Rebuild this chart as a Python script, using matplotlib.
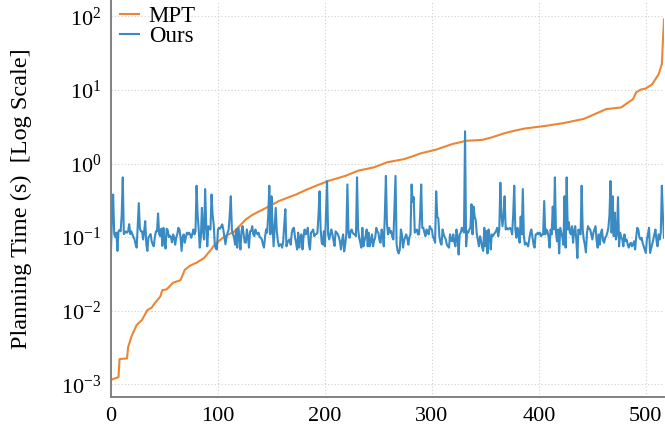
import numpy as np
import matplotlib
matplotlib.use("Agg")
import matplotlib.pyplot as plt
from matplotlib.ticker import FixedLocator, NullLocator

# ---------------- data ----------------
series_labels = ["MPT", "Ours"]

# MPT: sorted planning times, sampled at the ranks where they were read
mpt_rank = [0, 7, 8, 15, 16, 19, 24, 29, 34, 38,
            41, 46, 48, 52, 58, 65, 69, 74, 80, 87,
            94, 96, 101, 107, 115, 126, 132, 145, 157, 173,
            184, 203, 219, 231, 246, 258, 274, 283, 289, 304,
            319, 332, 347, 356, 368, 377, 387, 406, 423, 442,
            463, 477, 481, 488, 491, 495, 500, 506, 512, 515,
            516, 517]
mpt_time = [1.15e-3, 1.25e-3, 2.2e-3, 2.25e-3, 3.2e-3, 4.4e-3, 6.4e-3, 7.5e-3, 1.02e-2, 1.1e-2,
            1.27e-2, 1.55e-2, 1.9e-2, 1.95e-2, 2.4e-2, 2.6e-2, 3.6e-2, 4.1e-2, 4.5e-2, 5.2e-2,
            6.9e-2, 0.076, 0.089, 0.104, 0.118, 0.174, 0.20, 0.25, 0.31, 0.38,
            0.45, 0.58, 0.68, 0.80, 0.89, 1.04, 1.15, 1.27, 1.37, 1.55,
            1.84, 2.04, 2.1, 2.27, 2.59, 2.79, 3.0, 3.25, 3.55, 4.05,
            5.5, 5.8, 6.4, 7.5, 9.3, 10.1, 10.5, 12.0, 16.4, 22.6,
            47.0, 91.0]

# Ours: planning time per problem (same ordering), one value per problem
ours_time = [
    0.068, 0.2, 0.38, 0.11, 0.1, 0.115, 0.065, 0.12, 0.125, 0.12,
    0.2, 0.65, 0.11, 0.115, 0.12, 0.115, 0.12, 0.15, 0.11, 0.12,
    0.109, 0.1, 0.093, 0.08, 0.072, 0.15, 0.29, 0.13, 0.12, 0.12,
    0.093, 0.12, 0.165, 0.08, 0.065, 0.1, 0.103, 0.11, 0.088, 0.08,
    0.075, 0.1, 0.12, 0.12, 0.21, 0.11, 0.103, 0.13, 0.076, 0.134,
    0.09, 0.07, 0.13, 0.125, 0.1, 0.105, 0.1, 0.085, 0.109, 0.1,
    0.079, 0.098, 0.11, 0.134, 0.127, 0.1, 0.065, 0.1, 0.109, 0.084,
    0.1, 0.115, 0.109, 0.115, 0.109, 0.098, 0.11, 0.127, 0.109, 0.12,
    0.5, 0.2, 0.127, 0.072, 0.1, 0.25, 0.12, 0.093, 0.45, 0.15,
    0.075, 0.141, 0.13, 0.127, 0.38, 0.2, 0.15, 0.08, 0.07, 0.068,
    0.127, 0.134, 0.13, 0.14, 0.149, 0.127, 0.1, 0.08, 0.1, 0.115,
    0.127, 0.2, 0.36, 0.127, 0.11, 0.1, 0.079, 0.127, 0.072, 0.134,
    0.1, 0.068, 0.12, 0.141, 0.109, 0.085, 0.084, 0.127, 0.1, 0.072,
    0.12, 0.121, 0.141, 0.11, 0.103, 0.127, 0.115, 0.109, 0.115, 0.1,
    0.098, 0.093, 0.08, 0.072, 0.1, 0.127, 0.115, 0.2, 0.5, 0.109,
    0.36, 0.15, 0.075, 0.141, 0.25, 0.12, 0.088, 0.075, 0.079, 0.08,
    0.072, 0.088, 0.15, 0.24, 0.075, 0.084, 0.09, 0.093, 0.079, 0.115,
    0.13, 0.134, 0.1, 0.084, 0.068, 0.115, 0.072, 0.1, 0.109, 0.068,
    0.1, 0.127, 0.109, 0.115, 0.134, 0.08, 0.068, 0.115, 0.12, 0.127,
    0.103, 0.109, 0.11, 0.115, 0.2, 0.42, 0.127, 0.084, 0.079, 0.12,
    0.075, 0.2, 0.58, 0.109, 0.093, 0.11, 0.127, 0.109, 0.09, 0.076,
    0.12, 0.115, 0.11, 0.1, 0.088, 0.068, 0.09, 0.109, 0.064, 0.08,
    0.109, 0.52, 0.115, 0.098, 0.12, 0.127, 0.115, 0.11, 0.109, 0.103,
    0.65, 0.13, 0.098, 0.085, 0.072, 0.134, 0.075, 0.09, 0.103, 0.127,
    0.075, 0.115, 0.075, 0.09, 0.109, 0.075, 0.09, 0.098, 0.134, 0.12,
    0.115, 0.09, 0.084, 0.127, 0.109, 0.075, 0.2, 0.68, 0.15, 0.109,
    0.134, 0.115, 0.121, 0.1, 0.093, 0.25, 0.68, 0.08, 0.065, 0.06,
    0.068, 0.127, 0.109, 0.072, 0.09, 0.1, 0.109, 0.095, 0.079, 0.1,
    0.109, 0.52, 0.3, 0.35, 0.115, 0.12, 0.127, 0.109, 0.109, 0.2,
    0.52, 0.134, 0.134, 0.115, 0.103, 0.127, 0.12, 0.109, 0.141, 0.13,
    0.127, 0.1, 0.095, 0.084, 0.42, 0.19, 0.18, 0.103, 0.084, 0.079,
    0.127, 0.109, 0.1, 0.093, 0.079, 0.075, 0.072, 0.109, 0.09, 0.088,
    0.109, 0.085, 0.075, 0.127, 0.1, 0.058, 0.109, 0.115, 0.134, 0.125,
    0.115, 2.75, 0.075, 0.12, 0.115, 0.127, 0.134, 0.28, 0.109, 0.26,
    0.19, 0.17, 0.109, 0.09, 0.075, 0.103, 0.09, 0.072, 0.065, 0.134,
    0.075, 0.121, 0.06, 0.127, 0.103, 0.068, 0.109, 0.103, 0.109, 0.115,
    0.121, 0.134, 0.103, 0.127, 0.55, 0.2, 0.141, 0.2, 0.36, 0.127,
    0.134, 0.127, 0.13, 0.134, 0.127, 0.109, 0.2, 0.5, 0.127, 0.098,
    0.134, 0.115, 0.084, 0.19, 0.109, 0.45, 0.103, 0.079, 0.084, 0.08,
    0.075, 0.093, 0.115, 0.127, 0.1, 0.08, 0.072, 0.109, 0.11, 0.115,
    0.109, 0.115, 0.103, 0.109, 0.109, 0.31, 0.109, 0.127, 0.121, 0.103,
    0.072, 0.127, 0.109, 0.26, 0.127, 0.65, 0.115, 0.088, 0.127, 0.06,
    0.134, 0.115, 0.1, 0.079, 0.36, 0.072, 0.65, 0.127, 0.16, 0.115,
    0.109, 0.141, 0.084, 0.12, 0.141, 0.093, 0.052, 0.127, 0.115, 0.109,
    0.5, 0.127, 0.093, 0.079, 0.062, 0.115, 0.141, 0.13, 0.127, 0.109,
    0.093, 0.115, 0.127, 0.141, 0.09, 0.072, 0.109, 0.079, 0.115, 0.127,
    0.09, 0.084, 0.098, 0.103, 0.115, 0.134, 0.2, 0.58, 0.115, 0.36,
    0.103, 0.215, 0.093, 0.11, 0.35, 0.075, 0.115, 0.1, 0.093, 0.075,
    0.109, 0.088, 0.093, 0.08, 0.072, 0.08, 0.084, 0.075, 0.08, 0.088,
    0.068, 0.1, 0.134, 0.127, 0.1, 0.093, 0.098, 0.084, 0.075, 0.068,
    0.061, 0.093, 0.11, 0.134, 0.061, 0.07, 0.08, 0.093, 0.11, 0.127,
    0.09, 0.075, 0.109, 0.093, 0.115, 0.5, 0.193, 0.098,
]
ours_rank = np.arange(len(ours_time))

x_ticks = [0, 100, 200, 300, 400, 500]
y_ticks = [1e-3, 1e-2, 1e-1, 1e0, 1e1, 1e2]
y_label = "Planning Time (s)  [Log Scale]"

# ---------------- style ----------------
plt.rcParams.update({
    "font.family": ["Liberation Serif", "DejaVu Serif"],
    "mathtext.fontset": "custom",
    "mathtext.rm": "Liberation Serif",
    "mathtext.default": "regular",
    "font.size": 16,
})

orange = "#EC8534"
blue = "#3A8BC4"

fig = plt.figure(figsize=(6.65, 4.32), dpi=100)
ax = fig.add_axes([111 / 665, 35 / 432, 553 / 665, 396 / 432])

ax.plot(mpt_rank, mpt_time, color=orange, lw=1.5, label=series_labels[0])
ax.plot(ours_rank, ours_time, color=blue, lw=1.5, label=series_labels[1])

ax.set_yscale("log")
ax.set_xlim(0, len(ours_time) - 1)
ax.set_ylim(10 ** -3.173, 10 ** 2.21)
ax.xaxis.set_major_locator(FixedLocator(x_ticks))
ax.yaxis.set_major_locator(FixedLocator(y_ticks))
ax.yaxis.set_minor_locator(NullLocator())
ax.xaxis.set_minor_locator(NullLocator())

ax.grid(True, which="major", linestyle=(0, (1, 2)), color="#d0d0d0", lw=0.8)
ax.set_axisbelow(True)
for s in ["top", "right"]:
    ax.spines[s].set_visible(False)
for s in ["left", "bottom"]:
    ax.spines[s].set_color("#808080")
    ax.spines[s].set_linewidth(1.4)
ax.tick_params(axis="both", length=0, labelsize=16, pad=7)

ax.set_ylabel(y_label, fontsize=17.5, labelpad=21)

ax.legend(loc="upper left", bbox_to_anchor=(0.008, 1.0), frameon=False, fontsize=16.5,
          handlelength=0.85, handletextpad=0.4, labelspacing=-0.02,
          borderaxespad=0.05, borderpad=0.15)

fig.savefig("out.png", dpi=100)
